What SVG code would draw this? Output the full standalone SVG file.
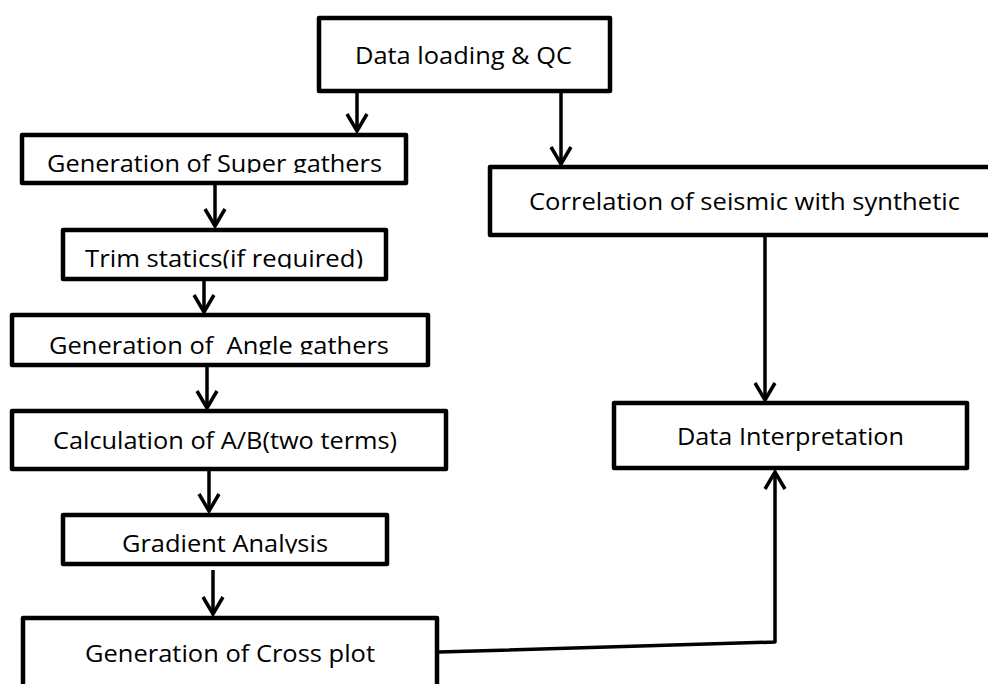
<svg xmlns="http://www.w3.org/2000/svg" width="988" height="684" viewBox="0 0 988 684">
<style>
.box{fill:#fff;stroke:#000;stroke-width:4.5;stroke-linejoin:round}
.lbl{font-family:"Open Sans","Noto Sans",sans-serif;font-size:24px;fill:#000}
.con{fill:none;stroke:#000;stroke-width:3.5;stroke-linejoin:round}
</style>
<defs>
<marker id="v" markerUnits="userSpaceOnUse" viewBox="-20 -13 24 26" refX="0" refY="0" markerWidth="24" markerHeight="26" orient="auto" overflow="visible">
<path d="M-17,-10 L0,0 L-17,10" fill="none" stroke="#000" stroke-width="3.5" stroke-linejoin="miter" stroke-linecap="butt"/>
</marker>
<clipPath id="c1"><rect x="0" y="130" width="420" height="43"/></clipPath>
<clipPath id="c2"><rect x="0" y="230" width="420" height="38.5"/></clipPath>
<clipPath id="c3"><rect x="0" y="315" width="440" height="39.5"/></clipPath>
<clipPath id="c4"><rect x="0" y="515" width="420" height="38.5"/></clipPath>
</defs>
<rect width="988" height="684" fill="#fff"/>
<g id="connectors">
<line class="con" x1="357" y1="93" x2="357" y2="131" marker-end="url(#v)"/>
<line class="con" x1="561" y1="93" x2="561" y2="164" marker-end="url(#v)"/>
<line class="con" x1="215" y1="185" x2="215" y2="226" marker-end="url(#v)"/>
<line class="con" x1="204" y1="281" x2="204" y2="312" marker-end="url(#v)"/>
<line class="con" x1="207" y1="367" x2="207" y2="408" marker-end="url(#v)"/>
<line class="con" x1="209" y1="468" x2="209" y2="511" marker-end="url(#v)"/>
<line class="con" x1="213" y1="570" x2="213" y2="614" marker-end="url(#v)"/>
<line class="con" x1="765" y1="237" x2="765" y2="400" marker-end="url(#v)"/>
<polyline class="con" points="439,652 775,642 775,472" marker-end="url(#v)"/>
</g>
<g id="n-data-loading">
<rect class="box" x="319" y="18" width="291" height="73"/>
<text class="lbl" x="355" y="64" textLength="217" lengthAdjust="spacingAndGlyphs">Data loading &amp; QC</text>
</g>
<g id="n-super-gathers">
<rect class="box" x="22" y="135" width="384" height="48"/>
<text class="lbl" x="47" y="172" textLength="335" lengthAdjust="spacingAndGlyphs" clip-path="url(#c1)">Generation of Super gathers</text>
</g>
<g id="n-trim-statics">
<rect class="box" x="63" y="230" width="323" height="49"/>
<text class="lbl" x="85" y="267" textLength="278" lengthAdjust="spacingAndGlyphs" clip-path="url(#c2)">Trim statics(if required)</text>
</g>
<g id="n-angle-gathers">
<rect class="box" x="12" y="315" width="416" height="50"/>
<text class="lbl" x="49" y="353.5" textLength="340" lengthAdjust="spacingAndGlyphs" clip-path="url(#c3)" xml:space="preserve">Generation of  Angle gathers</text>
</g>
<g id="n-calc-ab">
<rect class="box" x="12" y="411" width="434" height="58"/>
<text class="lbl" x="53" y="449" textLength="344" lengthAdjust="spacingAndGlyphs">Calculation of A/B(two terms)</text>
</g>
<g id="n-gradient">
<rect class="box" x="63" y="515" width="324" height="49"/>
<text class="lbl" x="122" y="552" textLength="206" lengthAdjust="spacingAndGlyphs" clip-path="url(#c4)">Gradient Analysis</text>
</g>
<g id="n-cross-plot">
<rect class="box" x="23" y="618" width="414" height="90"/>
<text class="lbl" x="85" y="662" textLength="290" lengthAdjust="spacingAndGlyphs">Generation of Cross plot</text>
</g>
<g id="n-correlation">
<rect class="box" x="490" y="167" width="530" height="68"/>
<text class="lbl" x="529" y="210" textLength="431" lengthAdjust="spacingAndGlyphs">Correlation of seismic with synthetic</text>
</g>
<g id="n-interpretation">
<rect class="box" x="614" y="403" width="353" height="65"/>
<text class="lbl" x="677" y="445" textLength="227" lengthAdjust="spacingAndGlyphs">Data Interpretation</text>
</g>
</svg>
